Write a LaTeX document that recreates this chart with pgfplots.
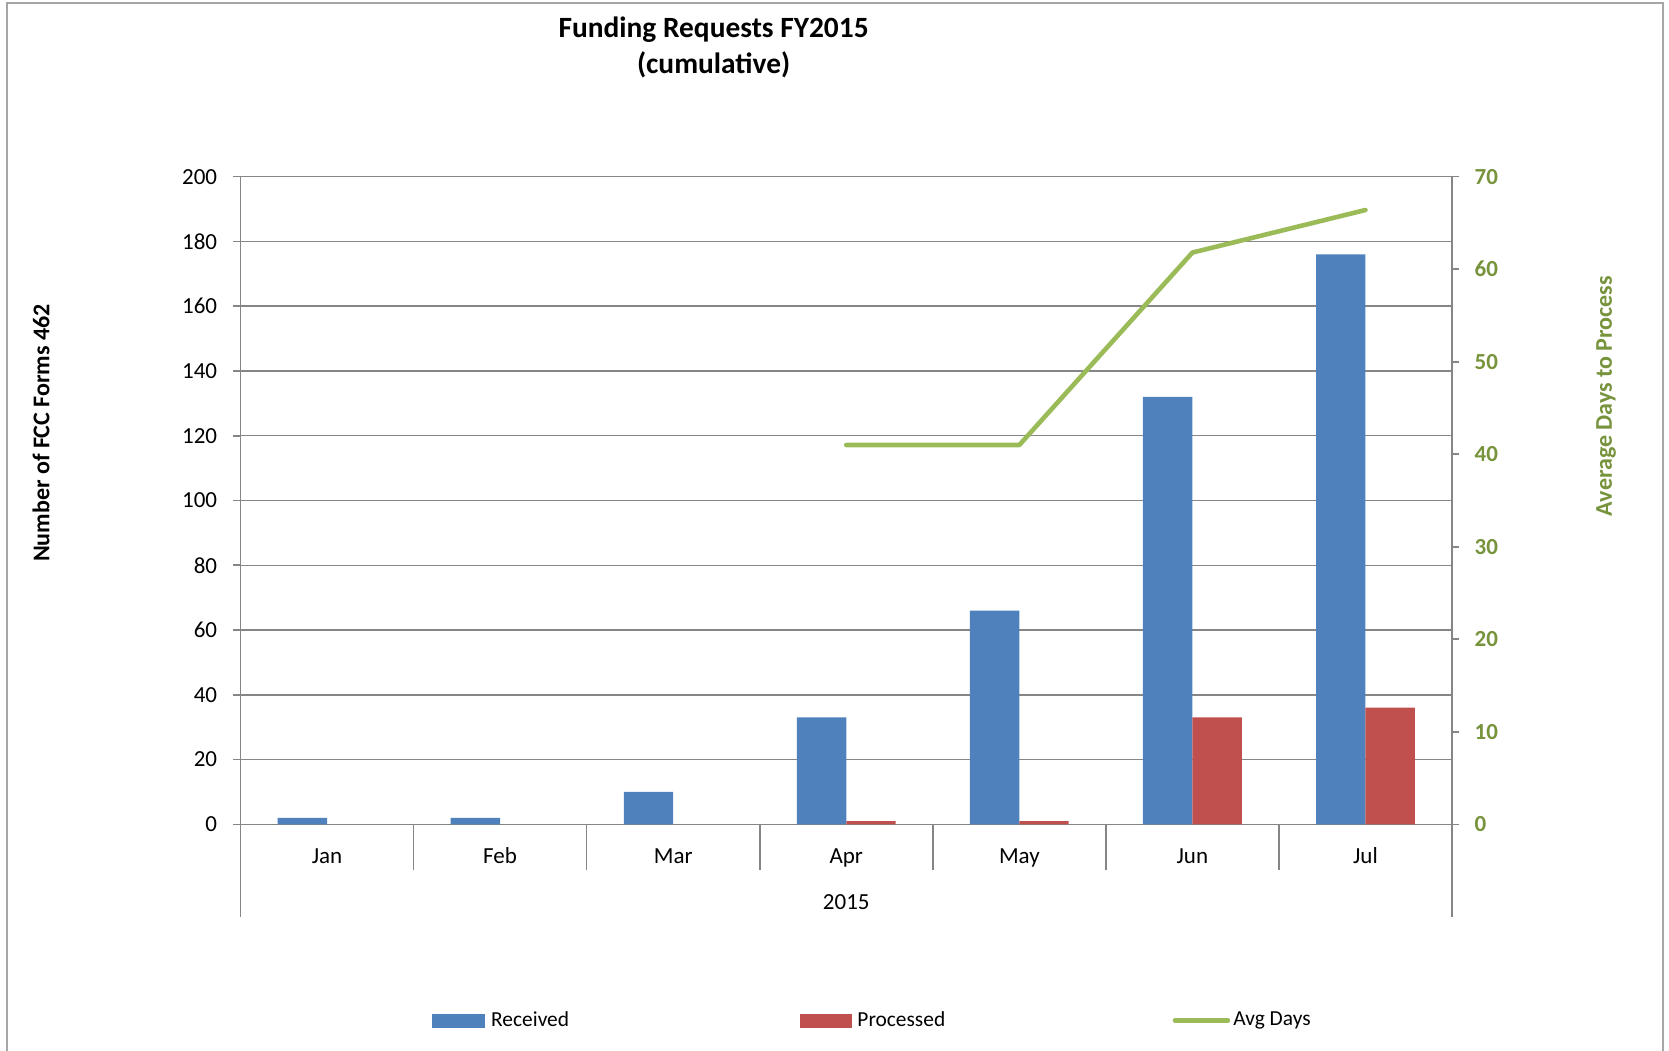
\documentclass[border=0pt]{standalone}
\usepackage{fontspec}
\setmainfont{Carlito}
\usepackage{pgfplots}
\pgfplotsset{compat=1.18}
\definecolor{rcvd}{HTML}{4F81BD}
\definecolor{proc}{HTML}{C0504D}
\definecolor{avgc}{HTML}{9BBB59}
\definecolor{avgtxt}{HTML}{77933C}
\definecolor{axgray}{HTML}{868686}
\definecolor{framegray}{HTML}{A6A6A6}
\newcommand\tickfont{\fontsize{11.5}{13.8}\selectfont}
\newcommand\legfont{\fontsize{10.7}{12.8}\selectfont}
\begin{document}
\begin{tikzpicture}[x=1pt,y=1pt]
\path[use as bounding box] (0,0) rectangle (834.5,525);
\draw[framegray, line width=1pt] (3.5,-2) -- (3.5,523.25) -- (831.5,523.25) -- (831.5,-2);
% title
\node[anchor=base, font=\bfseries\fontsize{14.7}{17.6}\selectfont] at (356.8,506.4) {Funding Requests FY2015};
\node[anchor=base, font=\bfseries\fontsize{14.7}{17.6}\selectfont] at (356.8,488.2) {(cumulative)};
% axis titles
\node[rotate=90, font=\bfseries\fontsize{12}{14}\selectfont] at (20.5,308.5) {Number of FCC Forms 462};
\node[rotate=90, font=\bfseries\fontsize{12}{14}\selectfont, text=avgtxt] at (803,327) {Average Days to Process};
\begin{axis}[
  at={(120.25pt,112.85pt)}, anchor=south west,
  scale only axis, width=605.75pt, height=323.8pt,
  xmin=-0.5, xmax=6.5, ymin=0, ymax=200,
  axis y line*=left, axis x line*=bottom,
  axis line style={axgray, line width=0.8pt},
  ytick={0,20,...,200},
  ymajorgrids, grid style={axgray, line width=0.75pt},
  tick align=outside, major tick length=3.85pt,
  ytick style={axgray, line width=0.8pt},
  xtick={0,...,6}, xticklabels={Jan,Feb,Mar,Apr,May,Jun,Jul},
  xtick style={draw=none},
  xticklabel style={anchor=base, yshift=-15.7pt, inner sep=0pt, font=\tickfont},
  yticklabel style={anchor=east, inner sep=0pt, xshift=-7.65pt, font=\tickfont},
  /pgf/number format/assume math mode=true,
  clip=false,
]
% Received
\addplot[ybar, bar width=0.2855, bar shift=-0.14275, fill=rcvd, draw=none] coordinates {(0,2)(1,2)(2,10)(3,33)(4,66)(5,132)(6,176)};
% Processed (Jan-Mar are 0 and draw nothing)
\addplot[ybar, bar width=0.2855, bar shift=0.14275, fill=proc, draw=none] coordinates {(3,1)(4,1)(5,33)(6,36)};
\pgfplotsinvokeforeach{0.5,1.5,2.5,3.5,4.5,5.5}{
  \draw[axgray, line width=0.8pt] (axis cs:#1,0) -- ++(0pt,-22.85pt);
}
\draw[axgray, line width=0.8pt] (axis cs:-0.5,0) -- ++(0pt,-46.2pt);
\draw[axgray, line width=0.8pt] (axis cs:6.5,0) -- ++(0pt,-46.2pt);
\path (axis cs:3,0) ++(0pt,-42.35pt) node[font=\tickfont, anchor=base, inner sep=0pt] {2015};
\end{axis}
\begin{axis}[
  at={(120.25pt,112.85pt)}, anchor=south west,
  scale only axis, width=605.75pt, height=323.8pt,
  xmin=-0.5, xmax=6.5, ymin=0, ymax=70,
  axis y line*=right, axis x line=none,
  axis line style={axgray, line width=0.8pt},
  ytick={0,10,...,70},
  tick align=outside, major tick length=3.65pt,
  ytick style={axgray, line width=0.8pt},
  yticklabel style={anchor=west, inner sep=0pt, xshift=7.5pt, font=\tickfont\bfseries, text=avgtxt},
  /pgf/number format/assume math mode=true,
  clip=false,
  legend columns=3,
  legend style={at={(0.1581,-0.303)}, anchor=west, draw=none, fill=none, inner sep=0pt,
    font=\legfont, nodes={inner sep=0pt},
    /tikz/every even column/.append style={column sep=0pt},
    /tikz/every odd column/.append style={column sep=0pt}},
]
\addlegendimage{legend image code/.code={\fill[rcvd] (0pt,-3.25pt) rectangle (26pt,3.25pt);}}
\addlegendentry{\hspace*{3pt}\makebox[154.2pt][l]{Received}}
\addlegendimage{legend image code/.code={\fill[proc] (0pt,-3.25pt) rectangle (25.5pt,3.25pt);}}
\addlegendentry{\hspace*{3pt}\makebox[157.6pt][l]{Processed}}
\addplot[avgc, line width=2.3pt, line join=round, line cap=round,
  legend image code/.code={\draw[avgc,line width=2.5pt,line cap=round] (1.2pt,0pt) -- (27.5pt,0pt);}]
  coordinates {(3,41)(4,41)(5,61.8)(6,66.4)};
\addlegendentry{\hspace*{1.6pt}Avg Days}
\end{axis}
\end{tikzpicture}
\end{document}
